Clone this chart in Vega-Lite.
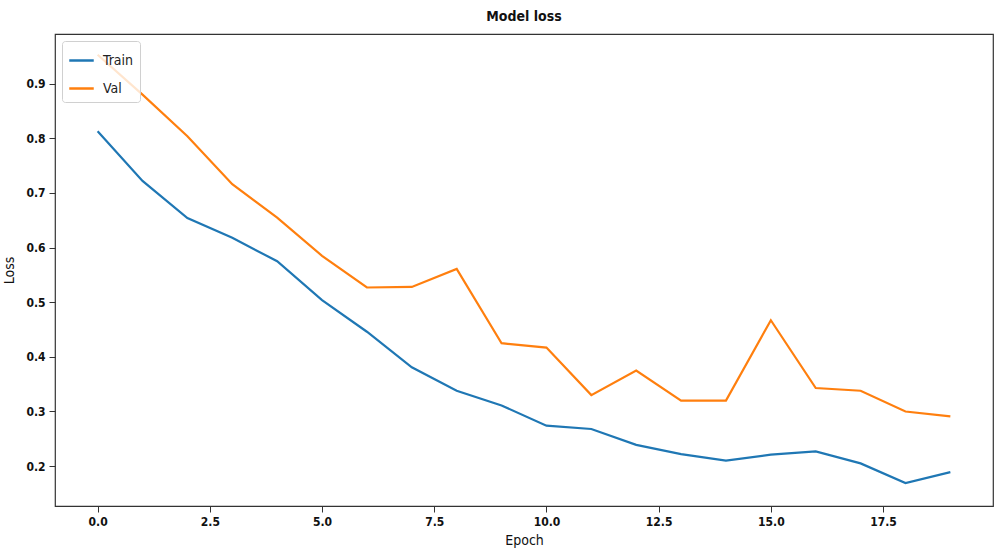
{
  "$schema": "https://vega.github.io/schema/vega-lite/v6.json",
  "width": 938,
  "height": 472,
  "autosize": {"type": "none"},
  "padding": {"left": 55, "top": 34, "right": 5, "bottom": 54},
  "background": "white",
  "title": {"text": "Model loss", "font": "DejaVu Sans Condensed", "fontSize": 14, "fontWeight": "bold", "color": "#111", "offset": 10, "anchor": "middle"},
  "config": {
    "view": {"stroke": "#333", "strokeWidth": 1.2},
    "axis": {"domain": false, "grid": false, "tickColor": "#333", "tickSize": 6, "labelFont": "DejaVu Sans Condensed", "labelFontWeight": "bold", "labelFontSize": 12, "labelColor": "#111", "titleFont": "DejaVu Sans Condensed", "titleFontSize": 14, "titleFontWeight": "normal", "titleColor": "#111", "labelPadding": 4}
  },
  "data": {"values": [
    {"epoch": 0, "loss": 0.813, "series": "Train"},
    {"epoch": 1, "loss": 0.722, "series": "Train"},
    {"epoch": 2, "loss": 0.654, "series": "Train"},
    {"epoch": 3, "loss": 0.618, "series": "Train"},
    {"epoch": 4, "loss": 0.575, "series": "Train"},
    {"epoch": 5, "loss": 0.504, "series": "Train"},
    {"epoch": 6, "loss": 0.446, "series": "Train"},
    {"epoch": 7, "loss": 0.381, "series": "Train"},
    {"epoch": 8, "loss": 0.338, "series": "Train"},
    {"epoch": 9, "loss": 0.311, "series": "Train"},
    {"epoch": 10, "loss": 0.274, "series": "Train"},
    {"epoch": 11, "loss": 0.268, "series": "Train"},
    {"epoch": 12, "loss": 0.239, "series": "Train"},
    {"epoch": 13, "loss": 0.222, "series": "Train"},
    {"epoch": 14, "loss": 0.210, "series": "Train"},
    {"epoch": 15, "loss": 0.221, "series": "Train"},
    {"epoch": 16, "loss": 0.227, "series": "Train"},
    {"epoch": 17, "loss": 0.205, "series": "Train"},
    {"epoch": 18, "loss": 0.169, "series": "Train"},
    {"epoch": 19, "loss": 0.189, "series": "Train"},
    {"epoch": 0, "loss": 0.953, "series": "Val"},
    {"epoch": 1, "loss": 0.880, "series": "Val"},
    {"epoch": 2, "loss": 0.804, "series": "Val"},
    {"epoch": 3, "loss": 0.716, "series": "Val"},
    {"epoch": 4, "loss": 0.655, "series": "Val"},
    {"epoch": 5, "loss": 0.585, "series": "Val"},
    {"epoch": 6, "loss": 0.527, "series": "Val"},
    {"epoch": 7, "loss": 0.528, "series": "Val"},
    {"epoch": 8, "loss": 0.561, "series": "Val"},
    {"epoch": 9, "loss": 0.425, "series": "Val"},
    {"epoch": 10, "loss": 0.417, "series": "Val"},
    {"epoch": 11, "loss": 0.330, "series": "Val"},
    {"epoch": 12, "loss": 0.375, "series": "Val"},
    {"epoch": 13, "loss": 0.320, "series": "Val"},
    {"epoch": 14, "loss": 0.320, "series": "Val"},
    {"epoch": 15, "loss": 0.467, "series": "Val"},
    {"epoch": 16, "loss": 0.343, "series": "Val"},
    {"epoch": 17, "loss": 0.338, "series": "Val"},
    {"epoch": 18, "loss": 0.300, "series": "Val"},
    {"epoch": 19, "loss": 0.291, "series": "Val"}
  ]},
  "mark": {"type": "line", "strokeWidth": 2.2},
  "encoding": {
    "x": {"field": "epoch", "type": "quantitative", "title": "Epoch",
      "scale": {"domain": [-0.95, 19.95], "nice": false, "zero": false},
      "axis": {"values": [0, 2.5, 5, 7.5, 10, 12.5, 15, 17.5], "format": ".1f", "titlePadding": 6}},
    "y": {"field": "loss", "type": "quantitative", "title": "Loss",
      "scale": {"domain": [0.127, 0.991], "nice": false, "zero": false},
      "axis": {"values": [0.2, 0.3, 0.4, 0.5, 0.6, 0.7, 0.8, 0.9], "format": ".1f", "titlePadding": 9}},
    "color": {"field": "series", "type": "nominal",
      "scale": {"domain": ["Train", "Val"], "range": ["#1f77b4", "#ff7f0e"]},
      "legend": {"title": null, "orient": "top-left", "offset": 7, "symbolType": "stroke", "symbolSize": 600, "symbolStrokeWidth": 2.5, "labelFont": "DejaVu Sans Condensed", "labelFontSize": 14, "labelColor": "#222", "strokeColor": "#d0d0d0", "fillColor": "rgba(255,255,255,0.8)", "cornerRadius": 3, "padding": 6, "rowPadding": 7, "labelOffset": 8}}
  }
}
